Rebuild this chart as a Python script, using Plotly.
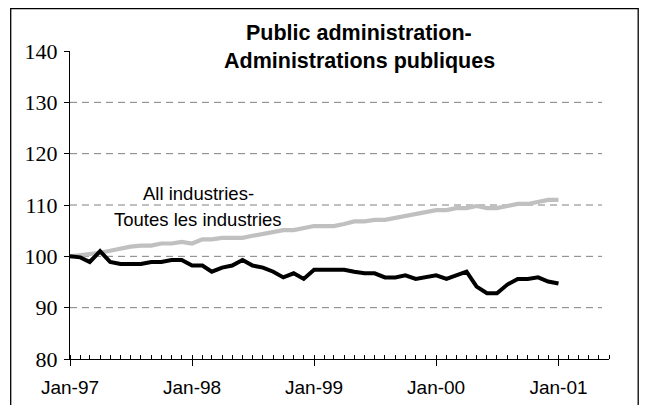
import pandas as pd
import plotly.graph_objects as go

months = pd.date_range("1997-01-01", "2001-01-01", freq="MS")

public_admin = [100.0, 99.8, 98.9, 101.0, 98.9, 98.5, 98.5, 98.5, 98.9, 98.9, 99.3, 99.3,
                98.2, 98.2, 97.0, 97.8, 98.2, 99.3, 98.2, 97.8, 97.0, 95.9, 96.7, 95.6,
                97.4, 97.4, 97.4, 97.4, 97.0, 96.7, 96.7, 95.9, 95.9, 96.3, 95.6, 95.9,
                96.3, 95.6, 96.3, 97.0, 94.1, 92.8, 92.8, 94.5, 95.6, 95.6, 95.9, 95.1,
                94.7]

all_industries = [100.0, 100.2, 100.5, 100.7, 101.1, 101.6, 101.9, 102.1, 102.1, 102.5, 102.5, 102.8,
                  102.5, 103.3, 103.3, 103.6, 103.6, 103.6, 104.0, 104.4, 104.8, 105.1, 105.1, 105.5,
                  105.9, 105.9, 105.9, 106.3, 106.8, 106.8, 107.1, 107.1, 107.5, 107.9, 108.3, 108.7,
                  109.0, 109.0, 109.4, 109.4, 109.8, 109.4, 109.4, 109.8, 110.2, 110.2, 110.6, 111.0,
                  111.0]

tick_vals = ["1997-01-01", "1998-01-01", "1999-01-01", "2000-01-01", "2001-01-01"]
tick_text = ["Jan-97", "Jan-98", "Jan-99", "Jan-00", "Jan-01"]
y_ticks = [80, 90, 100, 110, 120, 130, 140]

# page body adds an 8px margin on every side; figure sized so the page fits the window
OFF = 8
W, H = 647 - 2 * OFF, 413 - 2 * OFF
# plot area in screen pixels: left 70, right 609, top 51, bottom 359
L, R, T, B = 70 - OFF, W - (609 - OFF), 51 - OFF, H - (359 - OFF)
pw, ph = W - L - R, H - T - B

def px(x):  # screen x -> paper
    return (x - OFF - L) / pw

def py(y):  # screen y -> paper
    return (H - B - (y - OFF)) / ph

fig = go.Figure()
fig.add_trace(go.Scatter(x=months, y=all_industries, mode="lines",
                         line=dict(color="#C0C0C0", width=4.2), showlegend=False))
fig.add_trace(go.Scatter(x=months, y=public_admin, mode="lines",
                         line=dict(color="#000000", width=4), showlegend=False))

# dashed gridlines
for v in [90, 100, 110, 120, 130]:
    fig.add_shape(type="line", xref="paper", yref="y", x0=0, x1=px(602), y0=v, y1=v,
                  line=dict(color="#808080", width=1, dash="7px,5px"), layer="below")

# outer border
fig.add_shape(type="rect", xref="paper", yref="paper",
              x0=px(10.7), x1=px(OFF + W - 0.8), y0=py(430), y1=py(OFF + 0.7),
              line=dict(color="#000000", width=1.3))

title_font = dict(family="Liberation Sans, Arial", size=21.5, color="#000")
note_font = dict(family="Liberation Sans, Arial", size=18.5, color="#000")
common = dict(xref="paper", yref="paper", showarrow=False, xanchor="center", yanchor="middle")
fig.add_annotation(text="<b>Public administration-</b>", x=px(359), y=py(33),
                   font=title_font, **common)
fig.add_annotation(text="<b>Administrations publiques</b>", x=px(359), y=py(61),
                   font=title_font, **common)
fig.add_annotation(text="All industries-", x=px(198), y=py(193), font=note_font, **common)
fig.add_annotation(text="Toutes les industries", x=px(198), y=py(219), font=note_font, **common)

fig.update_layout(
    width=W, height=H,
    margin=dict(l=L, r=R, t=T, b=B, pad=0, autoexpand=False),
    paper_bgcolor="white", plot_bgcolor="white",
    xaxis=dict(range=["1997-01-01", "2001-06-01"], tickvals=tick_vals, ticktext=tick_text,
               automargin=False,
               showgrid=False, zeroline=False, showline=True, linecolor="#000", linewidth=1,
               ticks="outside", ticklen=6, tickcolor="#000", tickwidth=1,
               tickfont=dict(family="Liberation Sans, Arial", size=19, color="#000"),
               ticklabelstandoff=5,
               minor=dict(dtick="M1", tick0="1997-01-01", ticks="inside", ticklen=4,
                          tickcolor="#000", tickwidth=1, showgrid=False)),
    yaxis=dict(range=[80, 140], tickvals=y_ticks, automargin=False,
               showgrid=False, zeroline=False,
               showline=True, linecolor="#000", linewidth=1,
               ticks="outside", ticklen=5, tickcolor="#000", tickwidth=1,
               tickfont=dict(family="Liberation Serif, Times New Roman", size=22, color="#000"),
               ticklabelstandoff=2),
)

fig.write_html("out.html")
